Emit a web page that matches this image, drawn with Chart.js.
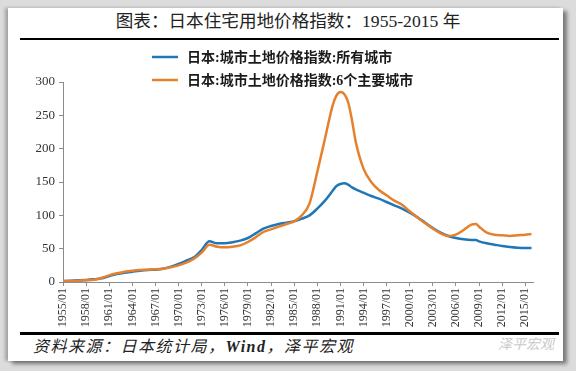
<!DOCTYPE html>
<html>
<head>
<meta charset="utf-8">
<script src="https://cdn.jsdelivr.net/npm/chart.js@4/dist/chart.umd.min.js"></script>
<style>
  html, body { margin:0; padding:0; }
  body { width:576px; height:371px; background:#dcdcdc; position:relative; overflow:hidden; }
  #panel { position:absolute; left:8px; top:8px; width:555px; height:353px; background:#fff;
           box-shadow: 4px 3px 4px rgba(0,0,0,0.45), -3px 0 3px rgba(0,0,0,0.25); }
  #title { position:absolute; left:0; top:10px; width:576px; text-align:center;
           font-family:'Liberation Serif','Noto Sans CJK SC',serif; font-size:17.6px; color:#222; line-height:22px; }
  .rule { position:absolute; left:20px; width:539px; background:#000; }
  #source { position:absolute; left:33px; top:337px; font-family:'Liberation Serif','Noto Sans CJK SC',serif;
            font-style:italic; font-size:16px; letter-spacing:1.5px; color:#222; line-height:20px; }
  #mark { position:absolute; left:498px; top:334px; font-family:'Noto Sans CJK SC',sans-serif;
          font-style:italic; font-size:14px; color:#c9c9c9; line-height:18px; }
  #c { position:absolute; left:0; top:0; }
</style>
</head>
<body>
<div id="panel"></div>
<div id="title">图表：日本住宅用地价格指数：1955-2015 年</div>
<div class="rule" style="top:38px;height:2px;"></div>
<div class="rule" style="top:332px;height:3px;"></div>
<div id="source">资料来源：日本统计局，<b>Wind</b>，泽平宏观</div>
<div id="mark">泽平宏观</div>
<canvas id="c" width="576" height="371"></canvas>
<script>
const seriesNames = ['日本:城市土地价格指数:所有城市', '日本:城市土地价格指数:6个主要城市'];
const years = [1955,1956,1957,1958,1959,1960,1961,1962,1963,1964,1965,1966,1967,1968,1969,1970,1971,1972,1973,1974,
  1975,1976,1977,1978,1979,1980,1981,1982,1983,1984,1985,1986,1987,1988,1989,1990,1990.5,1991,1991.5,1992,1992.5,
  1993,1994,1995,1996,1997,1998,1999,2000,2001,2002,2003,2004,2005,2006,2007,2008,2008.6,2009,2010,2011,2012,2013,2014,2015,2015.8];
const allCities = [1.5,2.0,2.5,3.0,4.0,5.5,9,12,14,15.5,17,18,18.5,20,23,27,32,37,48,61,
  58,58,59.5,62,66,73,80,84,87,89,91,95,100,110,122,137,144,147,148,146,142,
  139,134,129,125,120,115,110,104,97,89,81,74,69,66,64,63,63,61,58,56,54,52.5,51.5,51,51];
const sixCities = [1.0,1.5,2.0,2.5,3.5,6,10,13,15.5,17,18,18.5,19,20,22,25,29,35,44,56,
  53,52,53,55,60,67,75,79,83,87,91,100,118,165,215,265,280,285,282,270,243,
  210,170,150,138,130,122,116,106,97,88,80,73,69,71,78,86,87,83,74,71,70,69,70,71,72];
const xTickYears = [1955,1958,1961,1964,1967,1970,1973,1976,1979,1982,1985,1988,1991,1994,1997,2000,2003,2006,2009,2012,2015];
const xTickLabels = ['1955/01','1958/01','1961/01','1964/01','1967/01','1970/01','1973/01','1976/01','1979/01','1982/01',
  '1985/01','1988/01','1991/01','1994/01','1997/01','2000/01','2003/01','2006/01','2009/01','2012/01','2015/01'];
const yTicks = [0,50,100,150,200,250,300];
const colors = ['#2077b7', '#e5802c'];

const serif = "'Liberation Serif','Noto Sans CJK SC',serif";

const legendPlugin = {
  id: 'customLegend',
  afterDraw(chart, args, opts) {
    const ctx = chart.ctx;
    ctx.save();
    chart.data.datasets.forEach((ds, i) => {
      const y = opts.rows[i];
      ctx.strokeStyle = ds.borderColor;
      ctx.lineWidth = 2.5;
      ctx.beginPath();
      ctx.moveTo(opts.lineX0, y);
      ctx.lineTo(opts.lineX1, y);
      ctx.stroke();
      ctx.fillStyle = '#1a1a1a';
      ctx.font = "bold 14px " + serif;
      ctx.textBaseline = 'middle';
      ctx.textAlign = 'left';
      ctx.fillText(ds.label, opts.textX, y + 1);
    });
    ctx.restore();
  }
};

const axisColor = '#8c8c8c';
new Chart(document.getElementById('c'), {
  type: 'line',
  data: {
    datasets: [
      { label: seriesNames[0], data: years.map((x, i) => ({ x, y: allCities[i] })),
        borderColor: colors[0], backgroundColor: colors[0], borderWidth: 2.5, pointRadius: 0,
        cubicInterpolationMode: 'monotone', order: 2 },
      { label: seriesNames[1], data: years.map((x, i) => ({ x, y: sixCities[i] })),
        borderColor: colors[1], backgroundColor: colors[1], borderWidth: 2.5, pointRadius: 0,
        cubicInterpolationMode: 'monotone', order: 1 }
    ]
  },
  options: {
    responsive: false,
    animation: false,
    events: [],
    layout: { padding: { top: 82, right: 43, bottom: 44, left: 0 } },
    plugins: {
      legend: { display: false },
      tooltip: { enabled: false },
      customLegend: { rows: [57, 80], lineX0: 152, lineX1: 178, textX: 187 }
    },
    scales: {
      x: {
        type: 'linear', min: 1955, max: 2016,
        afterBuildTicks: s => { s.ticks = xTickYears.map(v => ({ value: v })); },
        afterFit: s => { s.height = 45; },
        ticks: {
          autoSkip: false, minRotation: 90, maxRotation: 90, padding: 2,
          color: '#333', font: { family: serif, size: 12 },
          callback: (v) => xTickLabels[xTickYears.indexOf(v)]
        },
        grid: { drawOnChartArea: false, drawTicks: true, tickLength: 4, color: axisColor },
        border: { display: true, color: axisColor, width: 1 }
      },
      y: {
        min: 0, max: 300,
        afterBuildTicks: s => { s.ticks = yTicks.map(v => ({ value: v })); },
        afterFit: s => { s.width = 63; },
        ticks: { padding: 4, color: '#333', font: { family: serif, size: 13 } },
        grid: { drawOnChartArea: false, drawTicks: true, tickLength: 4, color: axisColor },
        border: { display: true, color: axisColor, width: 1 }
      }
    }
  },
  plugins: [legendPlugin]
});
</script>
</body>
</html>
